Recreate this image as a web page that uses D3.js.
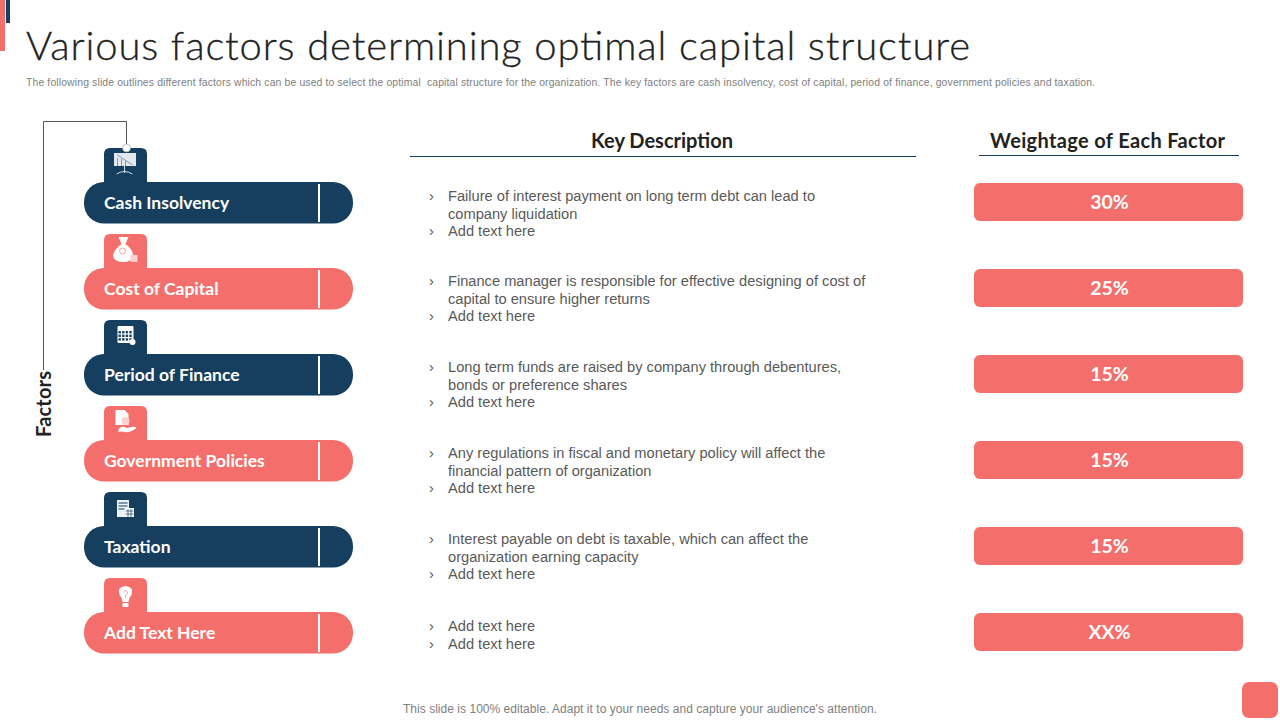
<!DOCTYPE html>
<html>
<head>
<meta charset="utf-8">
<script src="https://cdn.jsdelivr.net/npm/d3@7"></script>
<style>
  html, body { margin: 0; padding: 0; background: #fff; overflow: hidden; }
  text { white-space: pre; }
</style>
</head>
<body>
<svg id="chart" width="1280" height="720"></svg>
<script>
const titleText = 'Various factors determining optimal capital structure'
const subtitleText = 'The following slide outlines different factors which can be used to select the optimal  capital structure for the organization. The key factors are cash insolvency, cost of capital, period of finance, government policies and taxation.'
const footerText = "This slide is 100% editable. Adapt it to your needs and capture your audience's attention."

const factors = ['Cash Insolvency', 'Cost of Capital', 'Period of Finance', 'Government Policies', 'Taxation', 'Add Text Here']
const weights = ['30%', '25%', '15%', '15%', '15%', 'XX%']
const descriptions = [
  ['Failure of interest payment on long term debt can lead to', 'company liquidation', 'Add text here'],
  ['Finance manager is responsible for effective designing of cost of', 'capital to ensure higher returns', 'Add text here'],
  ['Long term funds are raised by company through debentures,', 'bonds or preference shares', 'Add text here'],
  ['Any regulations in fiscal and monetary policy will affect the', 'financial pattern of organization', 'Add text here'],
  ['Interest payable on debt is taxable, which can affect the', 'organization earning capacity', 'Add text here'],
  ['Add text here', 'Add text here'],
]
// which lines of each description start a new bullet
const bulletLines = [[0, 2], [0, 2], [0, 2], [0, 2], [0, 2], [0, 1]]
const iconKinds = ['board', 'bag', 'calendar', 'hand', 'calc', 'bulb']

const NAVY = '#153e5f'
const CORAL = '#f46f6b'
const headFont = "Lato, 'Open Sans', sans-serif"
const bodyFont = "'Liberation Sans', Arial, sans-serif"

const svg = d3.select('#chart')

// row positions: one band of 86px per factor
const rowScale = d3.scaleBand()
  .domain(factors)
  .range([182, 182 + 86 * factors.length])

// top accents
svg.append('rect').attr('x', 0).attr('y', 0).attr('width', 5).attr('height', 51).attr('fill', CORAL)
svg.append('rect').attr('x', 6).attr('y', 0).attr('width', 4).attr('height', 23).attr('fill', NAVY)

svg.append('text')
  .attr('x', 26).attr('y', 60)
  .attr('font-family', headFont).attr('font-weight', 300)
  .attr('font-size', 40).attr('fill', '#222')
  .attr('stroke', '#222').attr('stroke-width', 0.3)
  .attr('textLength', 944).attr('lengthAdjust', 'spacing')
  .text(titleText)

svg.append('text')
  .attr('x', 26).attr('y', 86)
  .attr('font-family', bodyFont).attr('font-size', 10.4).attr('fill', '#808080')
  .attr('textLength', 1069).attr('lengthAdjust', 'spacing')
  .text(subtitleText)

// connector and axis label
svg.append('path')
  .attr('d', d3.line()([[43.5, 370], [43.5, 121.5], [126.5, 121.5], [126.5, 148]]))
  .attr('fill', 'none').attr('stroke', '#555').attr('stroke-width', 1)

svg.append('text')
  .attr('transform', 'translate(51,404) rotate(-90)')
  .attr('text-anchor', 'middle')
  .attr('font-family', headFont).attr('font-weight', 700)
  .attr('font-size', 20).attr('fill', '#222')
  .attr('textLength', 66).attr('lengthAdjust', 'spacing')
  .text('Factors')

// column headers
const headers = [
  { label: 'Key Description', cx: 662, x1: 410, x2: 916, lineY: 156.5, len: 142 },
  { label: 'Weightage of Each Factor', cx: 1107.5, x1: 979, x2: 1239, lineY: 155.5, len: 235 },
]
headers.forEach((h) => {
  svg.append('text')
    .attr('x', h.cx).attr('y', 148).attr('text-anchor', 'middle')
    .attr('font-family', headFont).attr('font-weight', 700)
    .attr('font-size', 20).attr('fill', '#222')
    .attr('textLength', h.len).attr('lengthAdjust', 'spacing')
    .text(h.label)
  svg.append('line')
    .attr('x1', h.x1).attr('x2', h.x2).attr('y1', h.lineY).attr('y2', h.lineY)
    .attr('stroke', NAVY).attr('stroke-width', 1)
})

// white icon glyphs, origin at the centre of the tab
const drawIcon = (g, kind) => {
  const w = '#fff'
  if (kind === 'board') {
    g.append('rect').attr('x', -11.5).attr('y', -12).attr('width', 22).attr('height', 13).attr('fill', '#e3e9ee')
    g.append('path').attr('d', 'M-8-10L7 0M-8-7V1M-4-6V1M0-4V1').attr('stroke', '#7f97aa').attr('fill', 'none').attr('stroke-width', 1)
    g.append('path').attr('d', 'M-1 1V8M-9 9Q-1 4 7 9').attr('stroke', '#cfd9e1').attr('fill', 'none').attr('stroke-width', 1)
  } else if (kind === 'bag') {
    g.append('path').attr('d', 'M-7-14L3-14L0-7Q8-1 7.5 5Q6 11-2 11Q-11 11-12.5 5Q-12-1-4-7Z').attr('fill', w)
    g.append('circle').attr('cx', -3).attr('cy', 0).attr('r', 3).attr('fill', 'none').attr('stroke', '#f7a5a2').attr('stroke-width', 1)
    g.append('rect').attr('x', 5).attr('y', 4).attr('width', 7).attr('height', 7).attr('fill', '#fbd0ce')
  } else if (kind === 'calendar') {
    g.append('rect').attr('x', -8).attr('y', -11).attr('width', 16).attr('height', 17).attr('rx', 1).attr('fill', w)
    const cells = d3.cross(d3.range(4), d3.range(3))
    g.selectAll('rect.cell').data(cells).join('rect').attr('class', 'cell')
      .attr('x', (d) => -7 + d[0] * 3.6).attr('y', (d) => -6 + d[1] * 3.6)
      .attr('width', 2.4).attr('height', 2.4).attr('fill', NAVY)
    g.append('circle').attr('cx', 7).attr('cy', 5).attr('r', 3).attr('fill', w)
  } else if (kind === 'hand') {
    g.append('path').attr('d', 'M-10-13H-1L3-9V2H-10Z').attr('fill', w)
    g.append('circle').attr('cx', 0).attr('cy', -2).attr('r', 4).attr('fill', '#fbd0ce')
    g.append('path').attr('d', 'M-7 6Q-3 2 1 5L6 4Q10 3 11 5Q5 10-1 9Q-4 8-7 9Z').attr('fill', w)
  } else if (kind === 'calc') {
    g.append('rect').attr('x', -8.5).attr('y', -9).attr('width', 12).attr('height', 17).attr('fill', '#eef2f5')
    g.append('path').attr('d', 'M-7-6H2M-7-3H2M-7 0H-1').attr('stroke', NAVY).attr('stroke-width', 1)
    g.append('rect').attr('x', -0.5).attr('y', -1).attr('width', 9).attr('height', 9).attr('fill', w)
    g.append('path').attr('d', 'M0 2H8M0 5H8M2.5 0V8M5.5 0V8').attr('stroke', NAVY).attr('stroke-width', 0.7)
  } else {
    g.append('path').attr('d', 'M-3 7Q-3 3-6 0Q-9-8 0-9Q9-8 6 0Q3 3 3 7Z').attr('fill', w)
    g.append('path').attr('d', 'M-2-3Q0-6 2-3Q2-1 0 0V3').attr('stroke', '#f7a5a2').attr('fill', 'none').attr('stroke-width', 1)
    g.append('rect').attr('x', -3).attr('y', 8).attr('width', 6).attr('height', 4).attr('rx', 1).attr('fill', w)
  }
}

// factor pills with tabs
const rows = svg.selectAll('g.factor').data(factors).join('g')
  .attr('class', 'factor')
  .attr('transform', (d) => `translate(0,${rowScale(d)})`)

const rowColor = (i) => (i % 2 === 0 ? NAVY : CORAL)

rows.append('path')
  .attr('d', 'M104 2V-28Q104-34 110-34H141Q147-34 147-28V2Z')
  .attr('fill', (d, i) => rowColor(i))
rows.append('rect')
  .attr('x', 84).attr('y', 0).attr('width', 269).attr('height', 41.5).attr('rx', 20)
  .attr('fill', (d, i) => rowColor(i))
rows.append('line')
  .attr('x1', 319).attr('x2', 319).attr('y1', 2).attr('y2', 40)
  .attr('stroke', '#fff').attr('stroke-width', 2)
rows.append('text')
  .attr('x', 104).attr('y', 27)
  .attr('font-family', headFont).attr('font-weight', 700)
  .attr('font-size', 17.5).attr('fill', '#fff')
  .text((d) => d)
rows.append('g')
  .attr('transform', 'translate(125.5,-17)')
  .each(function (d, i) { drawIcon(d3.select(this), iconKinds[i]) })

// the connector ends in a small ring on the first tab
svg.append('circle').attr('cx', 126.5).attr('cy', 148).attr('r', 4)
  .attr('fill', '#fff').attr('stroke', '#8a9bab').attr('stroke-width', 0.6)

// description bullets, first and last rows sit 1px lower in the band
const lineYs = [18, 36, 53]
rows.each(function (d, i) {
  const g = d3.select(this)
  const nudge = i === 0 || i === 5 ? 1 : 0
  descriptions[i].forEach((t, k) => {
    const y = lineYs[k] + nudge
    g.append('text')
      .attr('x', 448).attr('y', y)
      .attr('font-family', bodyFont).attr('font-size', 14.65).attr('fill', '#595959')
      .text(t)
    if (bulletLines[i].includes(k)) {
      g.append('text')
        .attr('x', 429).attr('y', y)
        .attr('font-family', bodyFont).attr('font-size', 14.65).attr('fill', '#595959')
        .text('›')
    }
  })
})

// weight boxes
const weightRows = svg.selectAll('g.weight').data(weights).join('g')
  .attr('class', 'weight')
  .attr('transform', (d, i) => `translate(974,${rowScale(factors[i]) + 1})`)
weightRows.append('rect')
  .attr('width', 269).attr('height', 38).attr('rx', 6).attr('fill', CORAL)
weightRows.append('text')
  .attr('x', 135.5).attr('y', 26).attr('text-anchor', 'middle')
  .attr('font-family', headFont).attr('font-weight', 700)
  .attr('font-size', 19.5).attr('fill', '#fff')
  .text((d) => d)

svg.append('text')
  .attr('x', 640).attr('y', 713).attr('text-anchor', 'middle')
  .attr('font-family', bodyFont).attr('font-size', 12).attr('fill', '#808080')
  .attr('textLength', 474).attr('lengthAdjust', 'spacing')
  .text(footerText)

svg.append('rect')
  .attr('x', 1242).attr('y', 682).attr('width', 36).attr('height', 36).attr('rx', 7).attr('fill', CORAL)
</script>
</body>
</html>
